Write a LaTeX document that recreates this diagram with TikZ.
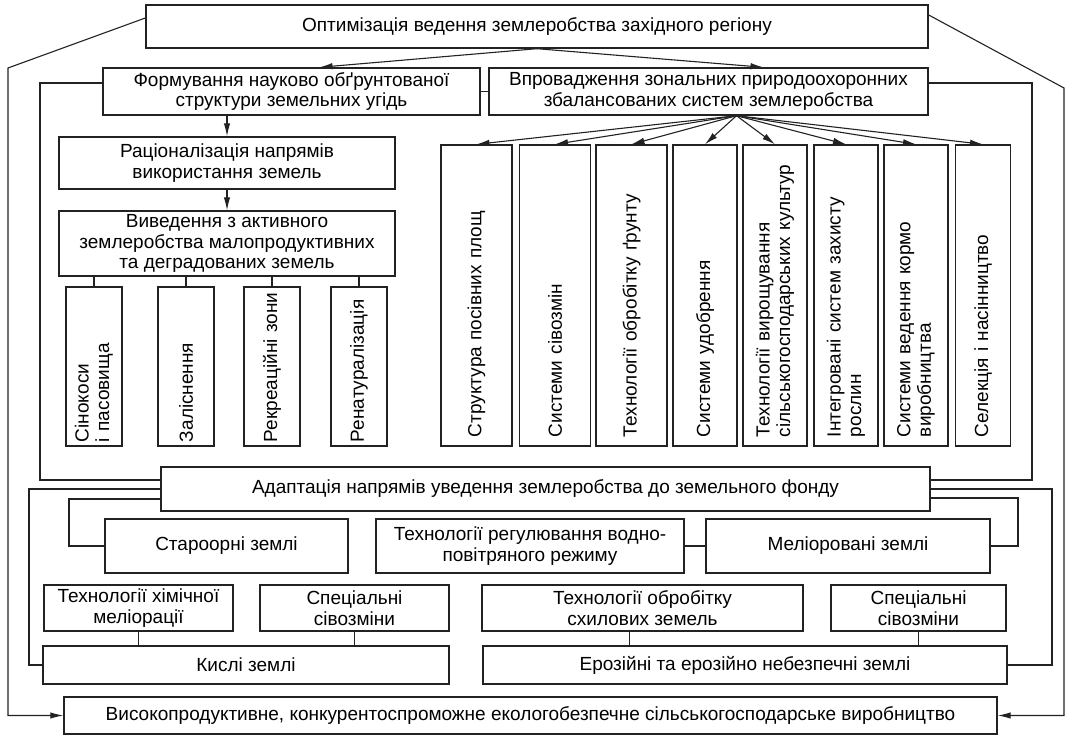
\documentclass[tikz,border=0pt]{standalone}
\usepackage{fontspec}
\setmainfont{Liberation Sans}
\usepackage{tikz}
\usetikzlibrary{arrows.meta}
\definecolor{OLine}{HTML}{222222}

\begin{document}
\begin{tikzpicture}[x=1pt,y=-1pt,
  every node/.style={font=\fontsize{19}{20.5}\selectfont},
  b/.style 2 args={draw=OLine,line width=1.4pt,inner sep=0pt,align=center,
    minimum width=#1,minimum height=#2},
  rv/.style={draw=OLine,line width=1.4pt,inner sep=0pt,rotate=90,align=left,
    minimum width=301pt,text width=283pt},
  lv/.style={draw=OLine,line width=1.4pt,inner sep=0pt,rotate=90,align=left,
    minimum width=159pt,minimum height=56pt,text width=151pt},
  a/.style={-{Latex[length=13pt,width=6.5pt]},line width=1.1pt,color=OLine},
  l/.style={line width=1.1pt,color=OLine}
]
  \useasboundingbox (0,0) rectangle (1068,735);

  \node[b={782pt}{43pt}] (top) at (537,26.5) {Оптимізація ведення землеробства західного регіону};
  \node[b={377pt}{47pt}] (form) at (291.5,91.5) {Формування науково обґрунтованої\\структури земельних угідь};
  \node[b={439pt}{47pt}] (vpr) at (708.5,91.5) {Впровадження зональних природоохоронних\\збалансованих систем землеробства};
  \node[b={336pt}{52pt}] (rac) at (227,163) {Раціоналізація напрямів\\використання земель};
  \node[b={336pt}{65pt}] (viv) at (227,243.5) {Виведення з активного\\землеробства малопродуктивних\\та деградованих земель};

  \foreach \n/\x/\t in {1/94/{Сінокоси\\і пасовища},2/186/{Заліснення},
      3/272/{Рекреаційні зони},4/359/{Ренатуралізація}}
    {\node[lv] (v\n) at (\x,366.5) {\t};
     \draw[l] (v\n.east |- viv.south) -- (v\n.east);}

  \foreach \n/\x/\w/\t in {1/476.5/71pt/{Структура посівних площ},
      2/555/71pt/{Системи сівозмін},
      3/631.5/71pt/{Технології обробітку ґрунту},
      4/705/64pt/{Системи удобрення},
      5/775/64pt/{Технології вирощування\\сільськогосподарських культур},
      6/846/64pt/{Інтегровані систем захисту\\рослин},
      7/916/64pt/{Системи ведення кормо\\виробництва},
      8/983/55pt/{Селекція і насінництво}}
    {\node[rv,minimum height=\w] (r\n) at (\x,295.5) {\t};}

  \node[b={769pt}{44pt}] (ada) at (545.5,489) {Адаптація напрямів уведення землеробства до земельного фонду};
  \node[b={243pt}{54pt}] (star) at (226.5,546) {Староорні землі};
  \node[b={308pt}{54pt}] (treg) at (530,546) {Технології регулювання водно-\\повітряного режиму};
  \node[b={284pt}{54pt}] (mel) at (848,546) {Меліоровані землі};
  \node[b={189pt}{46pt}] (khim) at (138.5,608) {Технології хімічної\\меліорації};
  \node[b={189pt}{46pt}] (sps1) at (354.5,608) {Спеціальні\\сівозміни};
  \node[b={321pt}{46pt}] (skh) at (642.5,608) {Технології обробітку\\схилових земель};
  \node[b={175pt}{46pt}] (sps2) at (918.5,608) {Спеціальні\\сівозміни};
  \node[b={406pt}{38pt}] (kysl) at (246,665) {Кислі землі};
  \node[b={524pt}{38pt}] (eroz) at (745,665) {Ерозійні та ерозійно небезпечні землі};
  \node[b={933pt}{37pt}] (bot) at (530.5,715.5) {Високопродуктивне, конкурентоспроможне екологобезпечне сільськогосподарське виробництво};

  \coordinate (fan) at ([xshift=28pt]vpr.south);
  \foreach \n in {1,...,8}
    {\draw[a] (fan) -- (r\n.east);}

  \draw[a] (top.south) -- ([xshift=28pt]form.north);
  \draw[a] (top.south) -- ([xshift=55pt]vpr.north);
  \draw[a] (rac.north |- form.south) -- (rac.north);
  \draw[a] (rac) -- (viv);
  \draw[l] (form) -- (vpr);
  \draw[l] (treg) -- (mel);
  \foreach \x/\y in {khim/kysl,sps1/kysl,sps2/eroz}
    {\draw[l] (\x.south) -- (\x.south |- \y.north);}
  \draw[l] ([xshift=-13pt]skh.south) -- ([xshift=-13pt]skh.south |- eroz.north);

  \draw[l] (form.west |- 0,83) -| (40,480) -- (ada.west |- 0,480);
  \draw[l] (vpr.east |- 0,83) -| (1032,480) -- (ada.east |- 0,480);
  \draw[l] (ada.west |- 0,489) -| (29,665) -- (kysl.west);
  \draw[l] (ada.west |- 0,499) -| (69,546) -- (star.west);
  \draw[l] (ada.east |- 0,489) -| (1052,665) -- (eroz.east);
  \draw[l] (ada.east |- 0,498) -| (1018,546) -- (mel.east);

  \draw[a] (top.west |- 0,18) -- (8,68) |- (bot.west);
  \draw[a] (top.east |- 0,15) -- (1064,88) |- (bot.east);
\end{tikzpicture}
\end{document}
